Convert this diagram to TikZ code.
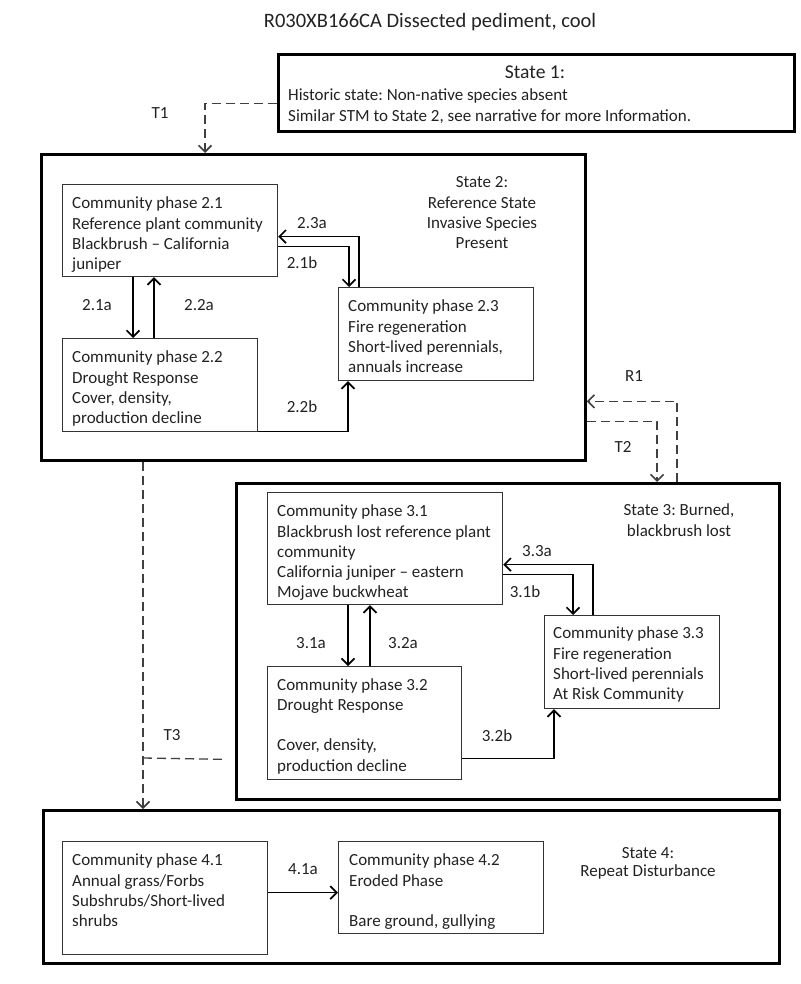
\documentclass[tikz,border=0pt]{standalone}
\usepackage{fontspec}
\setmainfont{Carlito}
\usetikzlibrary{arrows.meta}
\definecolor{ink}{HTML}{222222}
\definecolor{boxline}{HTML}{333333}
\frenchspacing
\begin{document}
\begin{tikzpicture}[x=1pt,y=-1pt,
  statebox/.style={draw=black,line width=2.8pt,anchor=north west,inner sep=0pt},
  pbox/.style={draw=boxline,line width=1.2pt,anchor=north west,inner sep=0pt},
  ptext/.style={inner sep=0pt,align=left,anchor=north west,text=ink,font=\fontsize{17}{20.3}\selectfont},
  ctext/.style={inner sep=0pt,align=center,text=ink,font=\fontsize{17}{20.3}\selectfont},
  lbl/.style={inner sep=0pt,text=ink,font=\fontsize{17}{20}\selectfont},
  arr/.style={draw=black,line width=1.2pt,-{Straight Barb[length=6.5pt,width=13pt,line width=1.7pt]}},
  dsh/.style={draw=black!75,line width=1.3pt,dash pattern=on 9pt off 5pt},
  darr/.style={dsh,-{Straight Barb[length=6.5pt,width=13pt,line width=1.6pt]}}
]
\useasboundingbox (0,0) rectangle (800,984);

% title
\node[lbl,font=\fontsize{20.5}{24}\selectfont] (title) at (430,22) {R030XB166CA Dissected pediment, cool};

% State 1
\node[statebox,minimum width=516pt,minimum height=77pt] (s1) at (277,53) {};
\node[ctext,font=\fontsize{19.6}{23}\selectfont] (s1h) at (535,72) {State 1:};
\node[ptext,font=\fontsize{17}{21}\selectfont] (s1t) at (288,88.7) {Historic state: Non-native species absent\\Similar STM to State 2, see narrative for more Information.};

% State 2
\node[statebox,minimum width=544pt,minimum height=306pt] (s2) at (40,153) {};
\node[ctext,anchor=north] (s2t) at (482,176.7) {State 2:\\Reference State\\Invasive Species\\Present};

\node[pbox,minimum width=215pt,minimum height=92pt] (b21) at (62,184) {};
\node[ptext] (b21t) at ([xshift=10pt,yshift=-12.7pt]b21.north west) {Community phase 2.1\\Reference plant community\\Blackbrush -- California\\juniper};
\node[pbox,minimum width=195pt,minimum height=93pt] (b22) at (62,338) {};
\node[ptext] (b22t) at ([xshift=10pt,yshift=-12.7pt]b22.north west) {Community phase 2.2\\Drought Response\\Cover, density,\\production decline};
\node[pbox,minimum width=195pt,minimum height=93pt] (b23) at (338,287) {};
\node[ptext] (b23t) at ([xshift=10pt,yshift=-12.7pt]b23.north west) {Community phase 2.3\\Fire regeneration\\Short-lived perennials,\\annuals increase};

\draw[arr] ([xshift=71pt]b21.south west) -- ([xshift=71pt]b22.north west);
\draw[arr] ([xshift=92pt]b22.north west) -- ([xshift=92pt]b21.south west);
\draw[arr] ([xshift=21pt]b23.north west) |- ([yshift=-6pt]b21.east);
\draw[arr] ([yshift=-16pt]b21.east) -| ([xshift=11pt]b23.north west);
\draw[arr] ([yshift=1pt]b22.south east) -| ([xshift=10pt]b23.south west);
\node[lbl] (l21a) at (97,305) {2.1a};
\node[lbl] (l22a) at (199,305) {2.2a};
\node[lbl] (l23a) at (312,223) {2.3a};
\node[lbl] (l21b) at (302,263) {2.1b};
\node[lbl] (l22b) at (302,407) {2.2b};

% State 3
\node[statebox,minimum width=543pt,minimum height=316pt] (s3) at (235,482) {};
\node[ctext,anchor=north] (s3t) at (679,503.7) {State 3: Burned,\\blackbrush lost};

\node[pbox,minimum width=235pt,minimum height=112pt] (b31) at (267,492) {};
\node[ptext] (b31t) at ([xshift=10pt,yshift=-12.7pt]b31.north west) {Community phase 3.1\\Blackbrush lost reference plant\\community\\California juniper -- eastern\\Mojave buckwheat};
\node[pbox,minimum width=194pt,minimum height=113pt] (b32) at (267,666) {};
\node[ptext] (b32t) at ([xshift=10pt,yshift=-12pt]b32.north west) {Community phase 3.2\\Drought Response\\[20.3pt]Cover, density,\\production decline};
\node[pbox,minimum width=175pt,minimum height=93pt] (b33) at (544,615) {};
\node[ptext] (b33t) at ([xshift=9pt,yshift=-11.7pt]b33.north west) {Community phase 3.3\\Fire regeneration\\Short-lived perennials\\At Risk Community};

\draw[arr] ([xshift=81pt]b31.south west) -- ([xshift=81pt]b32.north west);
\draw[arr] ([xshift=103pt]b32.north west) -- ([xshift=103pt]b31.south west);
\draw[arr] ([xshift=49pt]b33.north west) |- ([yshift=-16pt]b31.east);
\draw[arr] ([yshift=-26pt]b31.east) -| ([xshift=29pt]b33.north west);
\draw[arr] ([yshift=-35.5pt]b32.east) -| ([xshift=10pt]b33.south west);
\node[lbl] (l31a) at (311,643) {3.1a};
\node[lbl] (l32a) at (403,643) {3.2a};
\node[lbl] (l33a) at (537,551) {3.3a};
\node[lbl] (l31b) at (525,592) {3.1b};
\node[lbl] (l32b) at (497,736) {3.2b};

% State 4
\node[statebox,minimum width=736pt,minimum height=153pt] (s4) at (42,809) {};
\node[ctext,anchor=north,font=\fontsize{17}{18.5}\selectfont] (s4t) at (648,847) {State 4:\\Repeat Disturbance};
\node[pbox,minimum width=205pt,minimum height=113pt] (b41) at (62,841) {};
\node[ptext] (b41t) at ([xshift=10pt,yshift=-12.7pt]b41.north west) {Community phase 4.1\\Annual grass/Forbs\\Subshrubs/Short-lived\\shrubs};
\node[pbox,minimum width=205pt,minimum height=92pt] (b42) at (338,841) {};
\node[ptext] (b42t) at ([xshift=11pt,yshift=-12.7pt]b42.north west) {Community phase 4.2\\Eroded Phase\\[20.3pt]Bare ground, gullying};
\draw[arr] ([yshift=5.5pt]b41.east) -- ([yshift=-5pt]b42.west);
\node[lbl] (l41a) at (303,869) {4.1a};

% transitions
\draw[darr] ([yshift=-10.5pt]s1.west) -| ([xshift=165pt]s2.north west);
\node[lbl] (lT1) at (160,113) {T1};
\draw[darr] ([xshift=442pt]s3.north west) |- ([yshift=-94pt]s2.east);
\node[lbl] (lR1) at (634,376) {R1};
\draw[darr] ([yshift=-114pt]s2.east) -| ([xshift=422pt]s3.north west);
\node[lbl] (lT2) at (623,447) {T2};
\draw[darr] ([xshift=103pt]s2.south west) -- ([xshift=101pt]s4.north west);
\coordinate (t3j) at (143,758);
\draw[dsh] (t3j) -- ([xshift=-9pt,yshift=-118pt]s3.west);
\node[lbl] (lT3) at (172,735) {T3};
\end{tikzpicture}
\end{document}
